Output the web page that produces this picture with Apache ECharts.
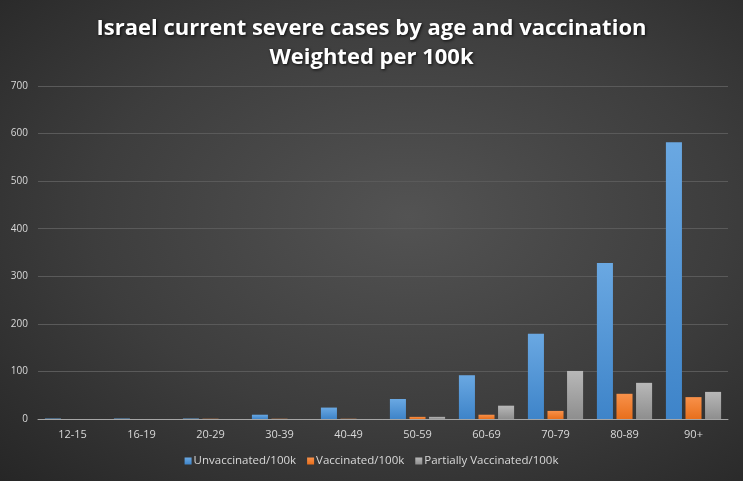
<!DOCTYPE html>
<html>
<head>
<meta charset="utf-8">
<script src="https://cdn.jsdelivr.net/npm/echarts@6/dist/echarts.min.js"></script>
<style>
  html, body { margin: 0; padding: 0; }
  #chart { width: 743px; height: 481px; background: radial-gradient(ellipse at 55% 45%, #535353 0%, #3d3d3d 55%, #262626 100%); }
</style>
</head>
<body>
<div id="chart"></div>
<script>
// 年龄组
const ageGroups = ['12-15', '16-19', '20-29', '30-39', '40-49', '50-59', '60-69', '70-79', '80-89', '90+']
// 每10万人重症数
const unvaccinated = [1, 1, 1, 9, 24, 42, 92, 179, 328, 582]
const vaccinated = [0, 0, 0.5, 0.5, 0.5, 4.5, 9, 17, 53, 46]
const partially = [0, 0, 0, 0, 0, 4.5, 28, 101, 76, 57]

const textColor = '#d9d9d9'

function grad(top, bottom) {
  return new echarts.graphic.LinearGradient(0, 0, 0, 1, [
    { offset: 0, color: top },
    { offset: 1, color: bottom },
  ])
}

const chart = echarts.init(document.getElementById('chart'), null, { renderer: 'canvas' })

const option = {
  animation: false,
  backgroundColor: 'transparent',
  title: {
    text: 'Israel current severe cases by age and vaccination\nWeighted per 100k',
    left: 'center',
    top: 9,
    textStyle: {
      color: '#ffffff',
      fontFamily: 'Open Sans',
      fontWeight: 'bold',
      fontSize: 22,
      lineHeight: 29,
      textShadowColor: 'rgba(0,0,0,0.8)',
      textShadowBlur: 3,
      textShadowOffsetX: 1,
      textShadowOffsetY: 1,
    },
  },
  legend: {
    bottom: 9,
    left: 'center',
    itemWidth: 7,
    itemHeight: 7,
    itemGap: 11,
    icon: 'rect',
    textStyle: { color: textColor, fontSize: 11.5, fontFamily: 'Open Sans', padding: [0, 0, 0, -3] },
    data: ['Unvaccinated/100k', 'Vaccinated/100k', 'Partially Vaccinated/100k'],
  },
  grid: { left: 38, right: 15, top: 86, bottom: 62 },
  xAxis: {
    type: 'category',
    data: ageGroups,
    axisTick: { show: false },
    axisLine: { lineStyle: { color: '#a6a6a6', width: 1 } },
    axisLabel: { color: textColor, fontSize: 11, fontFamily: 'Open Sans', margin: 10 },
  },
  yAxis: {
    type: 'value',
    min: 0,
    max: 700,
    interval: 100,
    axisLine: { show: false },
    axisTick: { show: false },
    axisLabel: { color: textColor, fontSize: 10, fontFamily: 'Open Sans', margin: 10 },
    splitLine: { lineStyle: { color: '#5a5a5a', width: 1 } },
  },
  series: [
    {
      name: 'Unvaccinated/100k',
      type: 'bar',
      data: unvaccinated,
      barGap: '22%',
      barCategoryGap: '20%',
      itemStyle: { color: grad('#6aa8e2', '#3e84c9') },
    },
    {
      name: 'Vaccinated/100k',
      type: 'bar',
      data: vaccinated,
      itemStyle: { color: grad('#f8914a', '#e86f1c') },
    },
    {
      name: 'Partially Vaccinated/100k',
      type: 'bar',
      data: partially,
      itemStyle: { color: grad('#b8b8b8', '#8e8e8e') },
    },
  ],
}

chart.setOption(option)
</script>
</body>
</html>
